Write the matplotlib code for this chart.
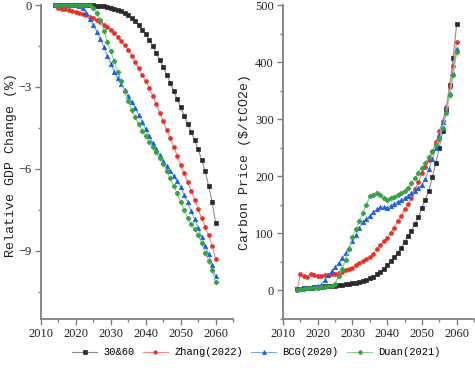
import matplotlib
matplotlib.use("Agg")
import matplotlib.pyplot as plt
from matplotlib.ticker import MultipleLocator

# ---------------- data ----------------
years_gdp_3060 = list(range(2014, 2061))
gdp_3060 = [0, 0, 0, 0, 0, 0, 0, 0, 0, 0, 0,
            -0.01, -0.02, -0.03, -0.05, -0.07, -0.10, -0.13, -0.17, -0.23, -0.30,
            -0.38, -0.48, -0.60, -0.74, -0.90, -1.07, -1.27, -1.50, -1.76, -2.02,
            -2.28, -2.55, -2.84, -3.15, -3.44, -3.75, -4.05, -4.35, -4.65, -4.95,
            -5.28, -5.66, -6.08, -6.62, -7.20, -7.97]

years_gdp_zhang = list(range(2015, 2061))
gdp_zhang = [-0.12, -0.13, -0.15, -0.18, -0.21, -0.25, -0.29, -0.33, -0.38, -0.43,
             -0.49, -0.56, -0.63, -0.72, -0.82, -0.93, -1.04, -1.18, -1.32, -1.48,
             -1.65, -1.85, -2.08, -2.32, -2.55, -2.78, -3.04, -3.32, -3.63, -3.95,
             -4.26, -4.57, -4.88, -5.20, -5.52, -5.86, -6.15, -6.47, -6.80, -7.13,
             -7.47, -7.81, -8.12, -8.44, -8.82, -9.30]

years_gdp_bcg = list(range(2014, 2061))
gdp_bcg = [0, 0, 0, 0, 0, 0, 0,
           -0.03, -0.12, -0.28, -0.50, -0.72, -0.98, -1.25, -1.55, -1.85, -2.15,
           -2.45, -2.68, -2.90, -3.10, -3.32, -3.55, -3.78, -4.02, -4.28, -4.55,
           -4.80, -5.05, -5.28, -5.50, -5.70, -5.90, -6.07, -6.25, -6.45, -6.65,
           -6.95, -7.23, -7.55, -7.85, -8.15, -8.50, -8.82, -9.13, -9.52, -9.93]

years_gdp_duan = list(range(2014, 2061))
gdp_duan = [0, 0, 0, 0, 0, 0, 0, 0, 0, 0, 0,
            -0.10, -0.30, -0.55, -0.95, -1.35, -1.70, -2.05, -2.45, -2.80, -3.15,
            -3.52, -3.85, -4.12, -4.37, -4.60, -4.80, -5.00, -5.20, -5.40, -5.60,
            -5.82, -6.07, -6.35, -6.62, -6.90, -7.20, -7.50, -7.80, -8.02, -8.20,
            -8.42, -8.72, -9.08, -9.37, -9.72, -10.13]

years_price = list(range(2014, 2061))
price_3060 = [2, 3, 4, 4.5, 5, 5.5, 6, 6.5, 7, 7.5, 8,
              8.5, 9.5, 10, 10.5, 11.5, 12.5, 13.5, 15, 17, 19,
              21, 24, 28, 33, 38, 44, 51, 58, 66, 75,
              84, 95, 105, 117, 128, 145, 159, 175, 198, 223,
              250, 280, 318, 360, 408, 466]
price_zhang = [0, 28, 25, 23, 28, 27, 26, 26, 27, 27, 28,
               29, 31, 33, 35, 37, 40, 44, 48, 52, 55,
               58, 64, 73, 79, 86, 92, 101, 110, 121, 131,
               142, 152, 162, 177, 190, 205, 217, 229, 242, 260,
               279, 296, 321, 356, 394, 436]
price_bcg = [2, 3, 4, 5, 5, 6, 7, 10, 18, 27, 34,
             41, 48, 56, 66, 75, 86, 98, 110, 120, 126,
             131, 137, 142, 146, 146, 145, 148, 152, 155, 158,
             162, 166, 171, 175, 180, 185, 195, 212, 230, 250,
             272, 295, 318, 345, 381, 423]
price_duan = [1, 2, 3, 3.5, 4, 4.5, 5, 5.5, 6, 7, 8,
              12, 25, 37, 54, 72, 94, 108, 121, 136, 150,
              165, 168, 171, 168, 162, 158, 162, 164, 167, 171,
              174, 180, 188, 197, 206, 215, 224, 234, 244, 254,
              265, 285, 311, 343, 378, 417]

labels = ["30&60", "Zhang(2022)", "BCG(2020)", "Duan(2021)"]

# ---------------- styles ----------------
styles = [
    dict(color="#8c8c8c", marker="s", mfc="#2a2a2a", mec="#2a2a2a", ms=2.5, mew=0.5),
    dict(color="#f08a8a", marker="o", mfc="#e8302a", mec="#e8302a", ms=2.8, mew=0.5),
    dict(color="#7fa3ec", marker="^", mfc="#1a5ee6", mec="#1a5ee6", ms=3.2, mew=0.5),
    dict(color="#8fcf95", marker="P", mfc="#36a046", mec="#36a046", ms=3.3, mew=0.5),
]

serif = "Liberation Serif"
mono = "Liberation Mono"

fig = plt.figure(figsize=(4.75, 3.68), dpi=100)
ax1 = fig.add_axes([41 / 475, 1 - 319 / 368, 192 / 475, 314 / 368])
ax2 = fig.add_axes([283 / 475, 1 - 319 / 368, 191 / 475, 314 / 368])

gdp_sets = [(years_gdp_3060, gdp_3060), (years_gdp_zhang, gdp_zhang),
            (years_gdp_bcg, gdp_bcg), (years_gdp_duan, gdp_duan)]
price_sets = [price_3060, price_zhang, price_bcg, price_duan]

handles = []
for (yr, v), st, lab in zip(gdp_sets, styles, labels):
    h, = ax1.plot(yr, v, lw=0.8, label=lab, clip_on=False, **st)
    handles.append(h)
for p, st in zip(price_sets, styles):
    ax2.plot(years_price, p, lw=0.8, clip_on=False, **st)

for ax in (ax1, ax2):
    for s in ("top", "right"):
        ax.spines[s].set_visible(False)
    for s in ("left", "bottom"):
        ax.spines[s].set_color("#808080")
        ax.spines[s].set_linewidth(1.3)
    ax.set_xlim(2010, 2065)
    ax.tick_params(which="major", direction="out", length=4, width=1.0,
                   color="#808080", labelsize=9, labelcolor="#222222", pad=2.5)
    ax.tick_params(which="minor", direction="out", length=2.5, width=1.0,
                   color="#808080")
    ax.patch.set_visible(False)

ax1.set_ylim(-11.5, 0)
ax1.yaxis.set_major_locator(MultipleLocator(3))
ax1.yaxis.set_minor_locator(MultipleLocator(1.5))
ax1.set_xticks(range(2010, 2061, 10))
ax1.set_xticks(range(2010, 2066, 5), minor=True)

ax2.set_ylim(-50, 500)
ax2.set_yticks(range(0, 501, 100))
ax2.set_yticks(range(-50, 501, 50), minor=True)
ax2.set_xticks(range(2010, 2061, 10))
ax2.set_xticks(range(2010, 2066, 5), minor=True)

for ax in (ax1, ax2):
    for t in ax.get_xticklabels() + ax.get_yticklabels():
        t.set_fontfamily(serif)

ax1.set_ylabel("Relative GDP Change (%)", fontfamily=mono, fontsize=9.5, color="#222222")
ax1.yaxis.set_label_coords(-0.125, 0.49)
ax2.set_ylabel("Carbon Price ($/tCO2e)", fontfamily=mono, fontsize=9.5, color="#222222")
ax2.yaxis.set_label_coords(-0.165, 0.5)

fig.legend(handles=handles, labels=labels, loc="center", bbox_to_anchor=(0.54, 0.043),
           ncol=4, frameon=False, prop={"family": mono, "size": 7.5},
           handlelength=2.4, handletextpad=0.6, columnspacing=0.8, markerscale=0.9)

fig.savefig("out.png", dpi=100)
